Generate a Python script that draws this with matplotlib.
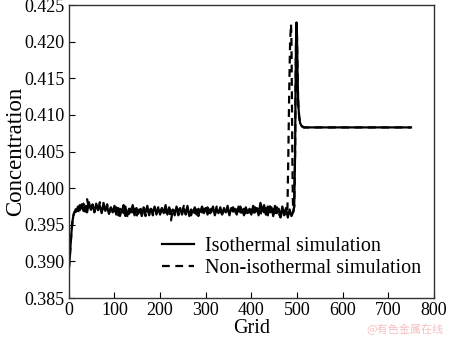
import matplotlib
matplotlib.use('Agg')
import matplotlib.pyplot as plt
import numpy as np

# データ (grid, concentration)
start_x = [0, 2, 4, 6, 8, 10, 12, 14]
start_y = [0.3890, 0.3905, 0.3925, 0.3942, 0.3955, 0.3963, 0.3967, 0.3969]

iso_noise = [
    0.3968, 0.3975, 0.3970, 0.3978, 0.3969, 0.3976, 0.3967, 0.3981, 0.3971, 0.3977, 0.3968,
    0.3979, 0.3970, 0.3976, 0.3966, 0.3980, 0.3969, 0.3975, 0.3965, 0.3974, 0.3967,
    0.3976, 0.3964, 0.3973, 0.3962, 0.3971, 0.3966, 0.3975, 0.3962, 0.3972, 0.3967, 0.3977,
    0.3963, 0.3973, 0.3965, 0.3971, 0.3962, 0.3974, 0.3966, 0.3976, 0.3963, 0.3972, 0.3967,
    0.3975, 0.3964, 0.3973,
    0.3964, 0.3972, 0.3966, 0.3977, 0.3964, 0.3974, 0.3967, 0.3971, 0.3963, 0.3975, 0.3968,
    0.3973, 0.3964, 0.3972, 0.3966, 0.3976, 0.3962, 0.3971, 0.3967, 0.3974, 0.3964, 0.3972,
    0.3968, 0.3975, 0.3966,
    0.3973, 0.3964, 0.3971, 0.3967, 0.3975, 0.3963, 0.3972, 0.3966, 0.3974, 0.3964, 0.3971,
    0.3967, 0.3976, 0.3963, 0.3973, 0.3968, 0.3972, 0.3964, 0.3975, 0.3967, 0.3971, 0.3963,
    0.3974, 0.3966, 0.3972,
    0.3964, 0.3976, 0.3967, 0.3973, 0.3963, 0.3980, 0.3969, 0.3977, 0.3964, 0.3975, 0.3967,
    0.3974, 0.3962, 0.3976, 0.3966, 0.3972, 0.3961, 0.3975, 0.3964, 0.3973, 0.3960, 0.3971,
    0.3962, 0.3968]
iso_noise_x = np.arange(16, 493, 4)

non_noise = [
    0.3973, 0.3967, 0.3977, 0.3970, 0.3979, 0.3968, 0.3985, 0.3972, 0.3969, 0.3978, 0.3967,
    0.3976, 0.3971, 0.3981, 0.3968, 0.3975, 0.3970, 0.3978, 0.3966, 0.3973, 0.3969,
    0.3966, 0.3974, 0.3963, 0.3972, 0.3967, 0.3977, 0.3962, 0.3971, 0.3965, 0.3974, 0.3967,
    0.3972, 0.3961, 0.3970, 0.3976, 0.3965, 0.3972, 0.3962, 0.3971, 0.3966, 0.3975, 0.3963,
    0.3971, 0.3967, 0.3974,
    0.3967, 0.3973, 0.3964, 0.3971, 0.3962, 0.3970, 0.3956, 0.3972, 0.3966, 0.3974, 0.3963,
    0.3971, 0.3967, 0.3976, 0.3964, 0.3970, 0.3972, 0.3963, 0.3973, 0.3966, 0.3971, 0.3962,
    0.3974, 0.3967, 0.3972,
    0.3966, 0.3974, 0.3963, 0.3972, 0.3968, 0.3964, 0.3975, 0.3967, 0.3971, 0.3962, 0.3973,
    0.3966, 0.3972, 0.3964, 0.3970, 0.3974, 0.3963, 0.3971, 0.3967, 0.3975, 0.3964, 0.3972,
    0.3966, 0.3973, 0.3967,
    0.3971, 0.3964, 0.3974, 0.3966, 0.3972, 0.3962, 0.3976, 0.3967, 0.3973, 0.3963, 0.3978,
    0.3964, 0.3972, 0.3961, 0.3974, 0.3966, 0.3960, 0.3971, 0.3963, 0.3967]
non_noise_x = np.arange(16, 477, 4)

# ピークとプラトー
iso_tail_x = [494, 496, 497, 498, 499, 500, 501, 502, 503, 505, 507, 510, 515, 750]
iso_tail_y = [0.3975, 0.4050, 0.4140, 0.4200, 0.4226, 0.4210, 0.4170, 0.4135, 0.4113,
              0.4097, 0.4089, 0.4085, 0.4083, 0.4083]
non_peak_x = [479, 481, 483, 485, 487, 488, 489, 490, 491, 492]
non_peak_y = [0.3966, 0.4040, 0.4130, 0.4200, 0.4224, 0.4200, 0.4120, 0.4040, 0.3985, 0.3968]

iso_x = np.concatenate([start_x, iso_noise_x, iso_tail_x])
iso_y = np.concatenate([start_y, iso_noise, iso_tail_y])
non_x = np.concatenate([start_x, non_noise_x, non_peak_x, iso_tail_x])
non_y = np.concatenate([start_y, non_noise, non_peak_y, iso_tail_y])

# 作図
plt.rcParams['font.family'] = ['Liberation Serif', 'DejaVu Serif']
fsz = 13
fig = plt.figure(figsize=(4.5, 3.38), dpi=100, facecolor='w')
ax = fig.add_axes([0.153, 0.118, 0.811, 0.867])

ax.plot(non_x, non_y, color='black', lw=1.6, ls=(0, (3.5, 2.5)),
        label='Non-isothermal simulation')
ax.plot(iso_x, iso_y, color='black', lw=1.6, label='Isothermal simulation')

ax.set_xlim(0, 800)
ax.set_ylim(0.385, 0.425)
ax.set_xticks(np.arange(0, 801, 100))
ax.set_yticks(np.arange(0.385, 0.4251, 0.005))
ax.set_yticklabels(['%.3f' % v for v in np.arange(0.385, 0.4251, 0.005)])
ax.tick_params(direction='in', length=4, width=0.8, labelsize=fsz, pad=3)
for sp in ax.spines.values():
    sp.set_linewidth(1.0)
    sp.set_color('#333333')
ax.set_xlabel('Grid', fontsize=14.5, labelpad=0)
ax.set_ylabel('Concentration', fontsize=16.5, labelpad=-1)

h, l = ax.get_legend_handles_labels()
ax.legend(h[::-1], l[::-1], loc='upper left', bbox_to_anchor=(0.255, 0.21),
          frameon=False, fontsize=14.5, handlelength=1.6, handletextpad=0.55,
          labelspacing=0.15, borderpad=0, borderaxespad=0)

# 透かし
fig.text(0.985, 0.008, '@有色金属在线', color='#f5c0c0', fontsize=8, ha='right',
         va='bottom', family=['Noto Sans CJK SC', 'DejaVu Sans'])

fig.savefig('out.png', dpi=100)
